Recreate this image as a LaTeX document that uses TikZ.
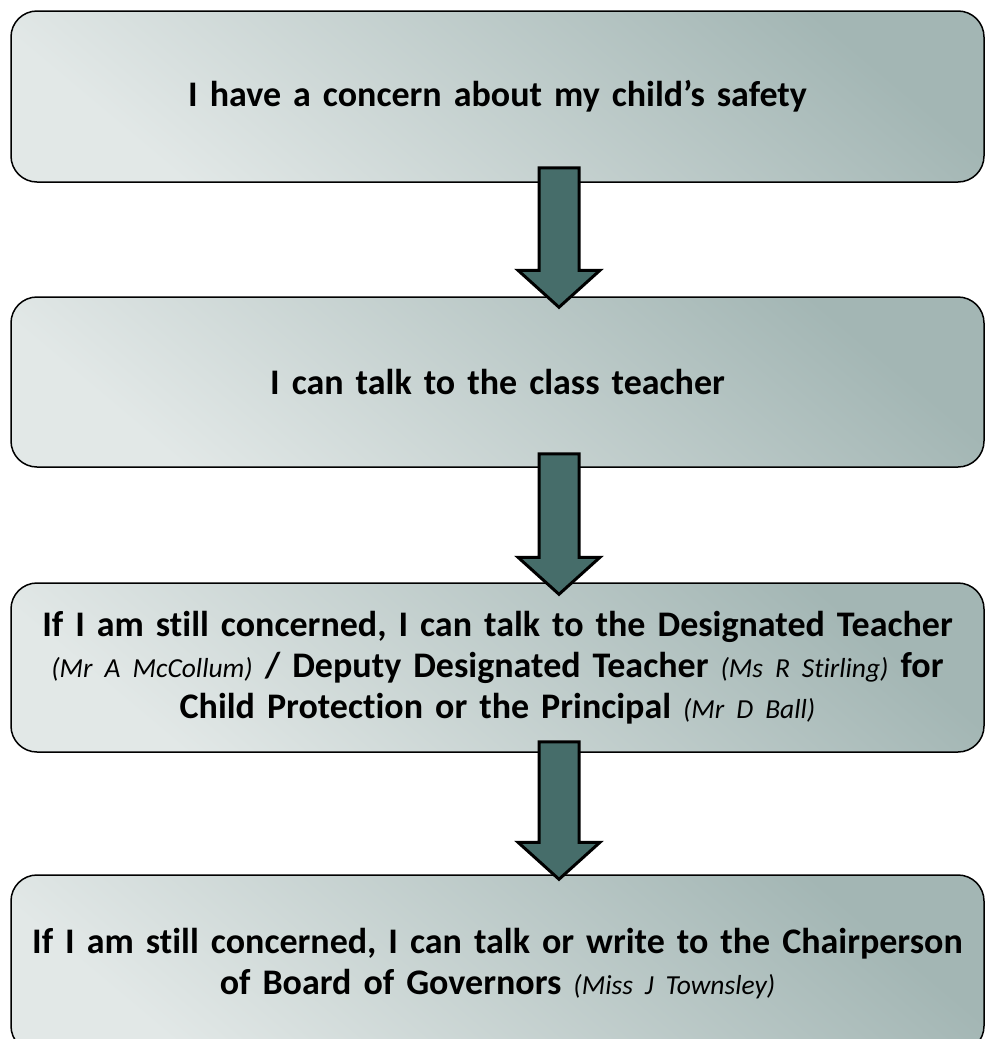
\documentclass[tikz,border=0pt]{standalone}
\usepackage{fontspec}
\setmainfont{Carlito}[Ligatures=NoCommon, WordSpace=0.9]
\usetikzlibrary{calc}
\definecolor{boxdark}{HTML}{A3B6B4}
\definecolor{boxlight}{HTML}{E2E8E7}
\definecolor{arrowfill}{HTML}{466D6A}
\newcommand\nm[1]{{\normalfont\itshape\fontsize{27.5}{41}\selectfont #1}}
\tikzset{
  stepbox/.style={draw=black, line width=1.5pt, rounded corners=26pt,
    top color=boxdark, bottom color=boxlight, shading angle=-40,
    minimum width=973pt, inner sep=0pt, text width=965pt, align=center,
    font=\bfseries\fontsize{36}{41}\selectfont},
  blockarrow/.style={draw=black, line width=3pt, fill=arrowfill, line join=miter}
}
\newcommand\blockarr[2]{% #1 shaft top, #2 tip
  \draw[blockarrow] ($(#1)+(-20,0)$) -- ($(#1)+(20,0)$) -- ($(#2)+(20,-37)$)
    -- ($(#2)+(41,-37)$) -- (#2) -- ($(#2)+(-41,-37)$) -- ($(#2)+(-20,-37)$) -- cycle;}
\begin{document}
\begin{tikzpicture}[x=1pt,y=-1pt]
\useasboundingbox (0,0) rectangle (985,1039);
\clip (0,0) rectangle (985,1039);
\node[stepbox, minimum height=171pt] (b1) at (497.5,96.5) {I have a concern about my child’s safety};
\node[stepbox, minimum height=170pt] (b2) at (497.5,382) {I can talk to the class teacher};
\node[stepbox, minimum height=169pt] (b3) at (497.5,667.5) {\raisebox{7pt}{\parbox{965pt}{\centering If I am still concerned, I can talk to the Designated Teacher\\ \nm{(Mr A McCollum)} / Deputy Designated Teacher \nm{(Ms R Stirling)} for\\ Child Protection or the Principal \nm{(Mr D Ball)}}}};
\node[stepbox, minimum height=177pt] (b4) at (497.5,963.5) {\raisebox{2pt}{\parbox{965pt}{\centering If I am still concerned, I can talk or write to the Chairperson\\ of Board of Governors \nm{(Miss J Townsley)}}}};
\coordinate (s1) at ($(b1.south)+(61.5,-15)$);
\coordinate (t1) at ($(b2.north)+(61.5,11)$);
\coordinate (s2) at ($(b2.south)+(61.5,-14)$);
\coordinate (t2) at ($(b3.north)+(61.5,12)$);
\coordinate (s3) at ($(b3.south)+(61.5,-11)$);
\coordinate (t3) at ($(b4.north)+(61.5,5)$);
\blockarr{s1}{t1}
\blockarr{s2}{t2}
\blockarr{s3}{t3}
\end{tikzpicture}
\end{document}
